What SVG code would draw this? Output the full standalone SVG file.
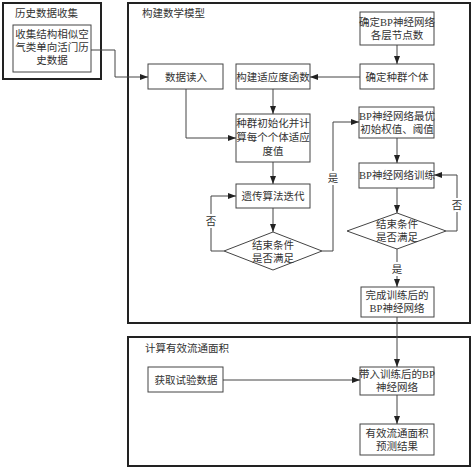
<svg xmlns="http://www.w3.org/2000/svg" width="474" height="468" viewBox="0 0 474 468">
<style>
.grp{fill:none;stroke:#222;stroke-width:2}
.n{fill:#fff;stroke:#444;stroke-width:1}
.t{font-family:"Liberation Serif","Noto Sans CJK SC",serif;font-size:10.5px;fill:#333;text-anchor:middle}
.tl{font-family:"Liberation Serif","Noto Sans CJK SC",serif;font-size:10.5px;fill:#333}
.c{fill:none;stroke:#444;stroke-width:1}
</style>
<defs>
<marker id="a" markerWidth="8" markerHeight="6" refX="8" refY="3" orient="auto" markerUnits="userSpaceOnUse">
<path d="M0,0 L8,3 L0,6 z" fill="#222"/>
</marker>
</defs>
<rect width="474" height="468" fill="#fff"/>
<g id="grp-history">
<rect class="grp" x="3" y="3" width="98" height="76"/>
<text class="tl" x="15" y="17">历史数据收集</text>
</g>
<g id="grp-model">
<rect class="grp" x="128" y="3" width="342" height="320"/>
<text class="tl" x="142" y="17">构建数学模型</text>
</g>
<g id="grp-calc">
<rect class="grp" x="128" y="337" width="342" height="129"/>
<text class="tl" x="145" y="352">计算有效流通面积</text>
</g>
<g id="n-collect">
<rect class="n" x="13" y="25" width="78" height="47"/>
<text class="t" x="52" y="38">收集结构相似空</text>
<text class="t" x="52" y="51">气类单向活门历</text>
<text class="t" x="52" y="64">史数据</text>
</g>
<g id="n-read">
<rect class="n" x="148" y="64" width="75" height="25"/>
<text class="t" x="186" y="81">数据读入</text>
</g>
<g id="n-fitness">
<rect class="n" x="236" y="64" width="74" height="25"/>
<text class="t" x="273" y="81">构建适应度函数</text>
</g>
<g id="n-bpnodes">
<rect class="n" x="360" y="12" width="74" height="33"/>
<text class="t" x="397" y="26">确定BP神经网络</text>
<text class="t" x="397" y="39">各层节点数</text>
</g>
<g id="n-pop">
<rect class="n" x="360" y="64" width="74" height="25"/>
<text class="t" x="397" y="81">确定种群个体</text>
</g>
<g id="n-init">
<rect class="n" x="236" y="114" width="74" height="48"/>
<text class="t" x="273" y="127">种群初始化并计</text>
<text class="t" x="273" y="141">算每个个体适应</text>
<text class="t" x="273" y="155">度值</text>
</g>
<g id="n-ga">
<rect class="n" x="236" y="184" width="74" height="24"/>
<text class="t" x="273" y="200">遗传算法迭代</text>
</g>
<g id="n-cond1">
<polygon class="n" points="273,232 322,251 273,270 224,251"/>
<text class="t" x="273" y="249">结束条件</text>
<text class="t" x="273" y="262">是否满足</text>
</g>
<g id="n-bpinit">
<rect class="n" x="359" y="107" width="75" height="31"/>
<text class="t" x="397" y="120">BP神经网络最优</text>
<text class="t" x="397" y="133">初始权值、阈值</text>
</g>
<g id="n-bptrain">
<rect class="n" x="359" y="163" width="75" height="25"/>
<text class="t" x="397" y="179">BP神经网络训练</text>
</g>
<g id="n-cond2">
<polygon class="n" points="397,213 446,231 397,249 347,231"/>
<text class="t" x="397" y="228">结束条件</text>
<text class="t" x="397" y="241">是否满足</text>
</g>
<g id="n-trained">
<rect class="n" x="361" y="287" width="73" height="30"/>
<text class="t" x="397" y="299">完成训练后的</text>
<text class="t" x="397" y="312">BP神经网络</text>
</g>
<g id="n-test">
<rect class="n" x="148" y="367" width="75" height="25"/>
<text class="t" x="186" y="384">获取试验数据</text>
</g>
<g id="n-apply">
<rect class="n" x="360" y="367" width="74" height="28"/>
<text class="t" x="397" y="378">带入训练后的BP</text>
<text class="t" x="397" y="391">神经网络</text>
</g>
<g id="n-result">
<rect class="n" x="360" y="424" width="74" height="31"/>
<text class="t" x="397" y="437">有效流通面积</text>
<text class="t" x="397" y="450">预测结果</text>
</g>
<g id="connectors">
<polyline class="c" points="91,50 115,50 115,77 148,77" marker-end="url(#a)"/>
<polyline class="c" points="186,89 186,138 236,138" marker-end="url(#a)"/>
<line class="c" x1="397" y1="45" x2="397" y2="64" marker-end="url(#a)"/>
<line class="c" x1="360" y1="77" x2="310" y2="77" marker-end="url(#a)"/>
<line class="c" x1="273" y1="89" x2="273" y2="114" marker-end="url(#a)"/>
<line class="c" x1="273" y1="162" x2="273" y2="184" marker-end="url(#a)"/>
<line class="c" x1="273" y1="208" x2="273" y2="232" marker-end="url(#a)"/>
<polyline class="c" points="224,251 211,251 211,196 236,196" marker-end="url(#a)"/>
<polyline class="c" points="322,251 333,251 333,122 359,122" marker-end="url(#a)"/>
<line class="c" x1="397" y1="138" x2="397" y2="163" marker-end="url(#a)"/>
<line class="c" x1="397" y1="188" x2="397" y2="213" marker-end="url(#a)"/>
<polyline class="c" points="446,231 457,231 457,175 434,175" marker-end="url(#a)"/>
<line class="c" x1="397" y1="249" x2="397" y2="287" marker-end="url(#a)"/>
<line class="c" x1="397" y1="317" x2="397" y2="367" marker-end="url(#a)"/>
<line class="c" x1="223" y1="380" x2="360" y2="380" marker-end="url(#a)"/>
<line class="c" x1="397" y1="395" x2="397" y2="424" marker-end="url(#a)"/>
<rect x="204" y="214" width="14" height="14" fill="#fff"/>
<text class="t" x="211" y="225">否</text>
<rect x="326" y="171" width="14" height="14" fill="#fff"/>
<text class="t" x="333" y="182">是</text>
<rect x="450" y="198" width="14" height="14" fill="#fff"/>
<text class="t" x="457" y="209">否</text>
<rect x="390" y="262" width="14" height="14" fill="#fff"/>
<text class="t" x="397" y="273">是</text>
</g>
</svg>
